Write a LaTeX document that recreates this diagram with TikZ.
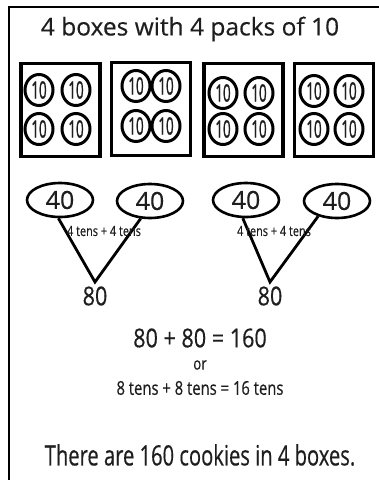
\documentclass[tikz,border=0pt]{standalone}
\usepackage{fontspec}
\setmainfont{Open Sans}[FakeBold=0.4]
\newfontfamily\packfont[FakeStretch=0.56,FakeBold=0.6]{Open Sans}
\newfontfamily\eightyfont[FakeStretch=0.83,FakeBold=0.4]{Open Sans}
\newfontfamily\eqfont[FakeStretch=0.83,FakeBold=0.4]{Open Sans}
\newfontfamily\tensfont[FakeStretch=0.78,FakeBold=0.4]{Open Sans}
\newfontfamily\finfont[FakeStretch=0.72,FakeBold=0.4]{Open Sans}
\usetikzlibrary{shapes.geometric}
\definecolor{ink}{HTML}{1E1E1E}
\begin{document}
\begin{tikzpicture}[x=1pt,y=-1pt,
  every node/.style={text=ink,inner sep=0pt},
  box/.style={draw=black,line width=3.6pt,minimum width=79pt,minimum height=93pt},
  pack/.style={draw=black,ellipse,line width=3pt,minimum width=28pt,minimum height=31pt,font=\packfont\fontsize{24}{24}\selectfont},
  bond/.style={draw=black,ellipse,line width=2.6pt,minimum width=66pt,minimum height=34pt,font=\fontsize{25}{25}\selectfont},
  arm/.style={draw=black,line width=2.8pt,line join=miter},
  small/.style={font=\tensfont\fontsize{14}{14}\selectfont},
  big/.style={font=\eightyfont\fontsize{26}{26}\selectfont}]
\useasboundingbox (0,0) rectangle (379,480);
\fill[white] (0,0) rectangle (379,480);
% frame
\coordinate (fBL) at (8.5,480);
\coordinate (fTL) at (8.5,6.5);
\coordinate (fTR) at (379,6.5);
\draw[line width=2pt] (fBL) -- (fTL) -- (fTR);
% title
\node[font=\fontsize{24.5}{24.5}\selectfont] (title) at (190,29) {4 boxes with 4 packs of 10};
% boxes
\node[box] (b1) at (60.3,110) {};
\node[box] (b2) at (151,109) {};
\node[box] (b3) at (243.3,110) {};
\node[box] (b4) at (334,110) {};
% packs
\node[pack] (p11) at (39,90) {10};
\node[pack] (p12) at (76,90) {10};
\node[pack] (p13) at (39,129) {10};
\node[pack] (p14) at (76,129) {10};
\node[pack] (p21) at (136,86) {10};
\node[pack] (p22) at (166,86) {10};
\node[pack] (p23) at (136,126) {10};
\node[pack] (p24) at (166,126) {10};
\node[pack] (p31) at (223,93) {10};
\node[pack] (p32) at (259,93) {10};
\node[pack] (p33) at (223,129) {10};
\node[pack] (p34) at (259,129) {10};
\node[pack] (p41) at (314,91) {10};
\node[pack] (p42) at (349,91) {10};
\node[pack] (p43) at (314,129) {10};
\node[pack] (p44) at (349,129) {10};
% number bonds
\node[bond] (e1) at (60,200) {40};
\node[bond] (e2) at (150,201) {40};
\node[bond] (e3) at (246,200) {40};
\node[bond] (e4) at (337,201) {40};
\coordinate (v1) at (95,282);
\coordinate (v2) at (270,282);
\draw[arm] (e1.-95) -- (v1) -- (e2.-118);
\draw[arm] (e3.-100) -- (v2) -- (e4.-141);
\node[small] (l1) at (104,231) {4 tens + 4 tens};
\node[small] (l2) at (274,231) {4 tens + 4 tens};
\node[big] (s1) at (95,296) {80};
\node[big] (s2) at (270,296) {80};
% equations
\node[font=\eqfont\fontsize{26}{26}\selectfont] (eq) at (200,338) {80 + 80 = 160};
\node[font=\tensfont\fontsize{17}{17}\selectfont] (or) at (200,365) {or};
\node[font=\tensfont\fontsize{19}{19}\selectfont] (eqt) at (200,388) {8 tens + 8 tens = 16 tens};
\node[font=\finfont\fontsize{28}{28}\selectfont] (fin) at (200,455) {There are 160 cookies in 4 boxes.};
\end{tikzpicture}
\end{document}
